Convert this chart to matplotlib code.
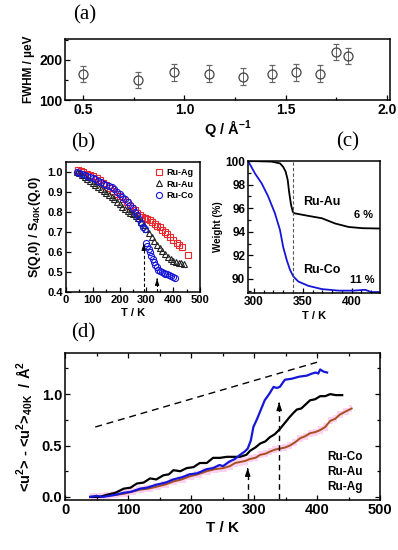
import matplotlib
matplotlib.use("Agg")
import matplotlib.pyplot as plt
from matplotlib.ticker import MultipleLocator

plt.rcParams['font.family'] = ['Liberation Sans', 'DejaVu Sans']
plt.rcParams['font.weight'] = 'bold'
plt.rcParams['mathtext.fontset'] = 'custom'
plt.rcParams['mathtext.rm'] = 'Liberation Sans:bold'
plt.rcParams['mathtext.bf'] = 'Liberation Sans:bold'
plt.rcParams['mathtext.it'] = 'Liberation Sans:bold'
plt.rcParams['mathtext.default'] = 'bf'

# ---------------- data ----------------
# (a)
q_vals = [0.50, 0.77, 0.95, 1.12, 1.29, 1.43, 1.55, 1.67, 1.75, 1.81]
fwhm_vals = [165, 149, 169, 165, 158, 165, 169, 165, 220, 210]
fwhm_err = [20, 20, 21, 21, 21, 21, 21, 21, 20, 20]

# (b)
b_ag_T = [46, 55, 65, 77, 89, 101, 114, 127, 139, 151, 164, 176, 189, 201, 214, 226, 239, 248,
          257, 266, 276, 285, 295, 304, 313, 322, 332, 341, 351, 360, 369, 378, 388, 400, 413,
          422, 432, 455]
b_ag_S = [1.008, 1.005, 1.0, 0.99, 0.985, 0.98, 0.97, 0.96, 0.945, 0.935, 0.92, 0.905, 0.89,
          0.88, 0.865, 0.85, 0.83, 0.82, 0.81, 0.795, 0.785, 0.775, 0.77, 0.765, 0.76, 0.75,
          0.74, 0.73, 0.725, 0.71, 0.70, 0.69, 0.675, 0.66, 0.645, 0.635, 0.625, 0.585]
b_au_T = [40, 50, 60, 70, 80, 90, 100, 110, 120, 130, 140, 150, 160, 170, 180, 190, 200, 210,
          220, 230, 240, 250, 260, 270, 280, 290, 300, 310, 320, 330, 340, 350, 360, 370, 380,
          390, 400, 410, 420, 430, 440]
b_au_S = [1.0, 0.995, 0.985, 0.975, 0.965, 0.955, 0.945, 0.935, 0.925, 0.915, 0.905, 0.895,
          0.885, 0.875, 0.865, 0.85, 0.84, 0.825, 0.815, 0.805, 0.795, 0.79, 0.78, 0.77, 0.75,
          0.735, 0.715, 0.695, 0.675, 0.655, 0.635, 0.62, 0.605, 0.59, 0.575, 0.565, 0.555,
          0.55, 0.545, 0.545, 0.54]
b_co_T = [41, 50, 60, 70, 80, 90, 100, 110, 120, 130, 140, 150, 160, 170, 180, 190, 200, 210,
          220, 230, 240, 250, 258, 265, 272, 280, 288, 295, 298, 303, 308, 313, 318, 323, 328,
          333, 338, 344, 350, 357, 364, 371, 378, 386, 393, 400, 407]
b_co_S = [1.0, 0.995, 0.99, 0.985, 0.98, 0.975, 0.97, 0.965, 0.955, 0.95, 0.94, 0.935, 0.93,
          0.925, 0.915, 0.90, 0.89, 0.875, 0.865, 0.85, 0.835, 0.82, 0.80, 0.785, 0.765, 0.745,
          0.725, 0.715, 0.645, 0.63, 0.615, 0.60, 0.58, 0.565, 0.55, 0.535, 0.525, 0.51, 0.505,
          0.50, 0.495, 0.49, 0.49, 0.485, 0.48, 0.475, 0.47]

# (c)
c_au_T = [294, 318, 326.7, 330, 332.5, 334.6, 336, 338, 339.8, 341, 356, 369.7, 383, 397, 411, 429]
c_au_W = [100, 99.95, 99.8, 99.5, 99.1, 98.4, 97.4, 96.3, 95.7, 95.57, 95.34, 95.14, 94.7, 94.4,
          94.3, 94.27]
c_co_T = [294, 297.5, 301, 308, 314.6, 321.5, 326.7, 330, 333.6, 337, 340.4, 345.5, 356, 369.7,
          386.8, 401.8, 410, 414, 420, 429]
c_co_W = [100, 99.5, 98.96, 98.1, 97.0, 95.57, 94.15, 92.7, 91.6, 90.76, 90.2, 89.77, 89.4,
          89.13, 89.0, 89.0, 89.05, 89.07, 88.88, 88.88]

# (d)
d_co_T = [40, 50, 60, 70, 80, 93, 105, 119, 130, 146, 160, 172, 185, 198, 210, 225, 235, 245,
          251, 260, 270, 278, 285, 290, 295, 299, 305, 311, 317, 324, 331, 336, 341, 349, 360,
          372, 384, 392, 398, 402, 405, 410, 416]
d_co_U = [0.0, 0.01, 0.0, 0.01, 0.02, 0.04, 0.05, 0.08, 0.09, 0.12, 0.14, 0.17, 0.19, 0.22,
          0.23, 0.27, 0.28, 0.31, 0.30, 0.34, 0.37, 0.41, 0.44, 0.47, 0.55, 0.68, 0.76, 0.85,
          0.94, 1.00, 1.07, 1.06, 1.07, 1.14, 1.15, 1.17, 1.18, 1.20, 1.21, 1.20, 1.24, 1.22, 1.21]
d_au_T = [40, 55, 66, 80, 93, 104, 114, 125, 135, 145, 156, 165, 172, 183, 193, 204, 214, 225,
          235, 246, 257, 266, 278, 288, 294, 302, 310, 318, 325, 333, 341, 349, 357, 363, 368,
          375, 382, 389, 397, 405, 413, 421, 430, 440]
d_au_U = [0.0, 0.0, 0.02, 0.04, 0.08, 0.09, 0.13, 0.14, 0.18, 0.17, 0.21, 0.22, 0.26, 0.25,
          0.28, 0.29, 0.33, 0.33, 0.38, 0.38, 0.39, 0.39, 0.39, 0.41, 0.45, 0.48, 0.52, 0.54,
          0.58, 0.61, 0.66, 0.72, 0.78, 0.82, 0.85, 0.86, 0.90, 0.94, 0.95, 0.98, 0.98, 1.00,
          0.99, 0.99]
d_ag_T = [40, 55, 66, 80, 93, 106, 119, 132, 146, 159, 172, 185, 198, 211, 225, 238, 251, 262,
          270, 278, 286, 294, 302, 310, 318, 325, 333, 341, 349, 357, 365, 373, 381, 389, 397,
          405, 413, 421, 429, 436, 445, 455]
d_ag_U = [0.0, 0.0, 0.01, 0.02, 0.03, 0.05, 0.07, 0.08, 0.10, 0.12, 0.15, 0.17, 0.20, 0.22,
          0.25, 0.27, 0.28, 0.30, 0.33, 0.34, 0.35, 0.37, 0.38, 0.41, 0.42, 0.44, 0.46, 0.47,
          0.48, 0.50, 0.53, 0.57, 0.59, 0.62, 0.63, 0.65, 0.68, 0.74, 0.76, 0.80, 0.83, 0.86]
d_guide_T = [48, 400]
d_guide_U = [0.68, 1.31]

BLUE = '#1616d8'
RED = '#e8282c'
BROWN = '#a8501e'

fig = plt.figure(figsize=(3.98, 5.5), dpi=100)


def ax_px(l, t, r, b):
    return fig.add_axes([l / 398, 1 - b / 550, (r - l) / 398, (b - t) / 550])


def style(ax, size, top=False, right=False):
    for s in ax.spines.values():
        s.set_linewidth(1.1)
    ax.tick_params(which='both', direction='in', top=top, right=right, width=0.9,
                   labelsize=size, pad=2)
    ax.tick_params(which='major', length=3.5)
    ax.tick_params(which='minor', length=2)
    for lab in ax.get_xticklabels() + ax.get_yticklabels():
        lab.set_fontweight('bold')


serif = ['Liberation Serif', 'DejaVu Serif']


def panel_label(x, y, s):
    fig.text(x / 398, 1 - y / 550, s, family=serif, fontsize=15, fontweight='normal',
             ha='center', va='center')


# ---------------- (a) ----------------
axA = ax_px(65, 39, 390, 100)
axA.errorbar(q_vals, fwhm_vals, yerr=fwhm_err, fmt='o', mfc='none', mec='#444444',
             ecolor='#666666', ms=6.5, mew=0.9, elinewidth=0.7, capsize=2.5, capthick=0.7)
axA.set_xlim(0.41, 2.015)
axA.set_ylim(100, 252)
axA.xaxis.set_major_locator(MultipleLocator(0.5))
axA.xaxis.set_minor_locator(MultipleLocator(0.25))
axA.yaxis.set_major_locator(MultipleLocator(100))
axA.yaxis.set_minor_locator(MultipleLocator(50))
style(axA, 10)
axA.set_ylabel('FWHM / µeV', fontsize=8.5, fontweight='bold', labelpad=3)
axA.set_xlabel('Q / Å$^{-1}$', fontsize=10.5, fontweight='bold', labelpad=1)
panel_label(85, 15, '(a)')

# ---------------- (b) ----------------
axB = ax_px(66, 162, 200, 292)
axB.plot(b_ag_T, b_ag_S, 's', mfc='none', mec=RED, ms=4.2, mew=0.8, label='Ru-Ag')
axB.plot(b_au_T, b_au_S, '^', mfc='none', mec='#222222', ms=4.4, mew=0.8, label='Ru-Au')
axB.plot(b_co_T, b_co_S, 'o', mfc='none', mec=BLUE, ms=4.4, mew=0.8, label='Ru-Co')
axB.plot([290, 290], [0.40, 0.63], color='k', lw=0.8, ls=(0, (3, 2)))
axB.annotate('', xy=(290, 0.655), xytext=(290, 0.62),
             arrowprops=dict(arrowstyle='-|>,head_width=0.12,head_length=0.35', color='k', lw=0.8))
axB.plot([340, 340], [0.40, 0.455], color='k', lw=0.8, ls=(0, (3, 2)))
axB.annotate('', xy=(340, 0.48), xytext=(340, 0.45),
             arrowprops=dict(arrowstyle='-|>,head_width=0.12,head_length=0.35', color='k', lw=0.8))
axB.set_xlim(0, 500)
axB.set_ylim(0.4, 1.05)
axB.xaxis.set_major_locator(MultipleLocator(100))
axB.xaxis.set_minor_locator(MultipleLocator(50))
axB.yaxis.set_major_locator(MultipleLocator(0.1))
style(axB, 8)
axB.set_xlabel('T / K', fontsize=8, fontweight='bold', labelpad=2)
axB.set_ylabel('S(Q,0) / S$_{40K}$(Q,0)', fontsize=9, fontweight='bold', labelpad=3)
leg = axB.legend(loc='upper right', frameon=False, prop={'size': 6.5, 'weight': 'bold'},
                 handletextpad=0.3, labelspacing=0.25, borderaxespad=0.3, handlelength=1.0)
panel_label(83, 143, '(b)')

# ---------------- (c) ----------------
axC = ax_px(248, 161, 380, 293)
axC.plot(c_au_T, c_au_W, color='k', lw=1.3)
axC.plot(c_co_T, c_co_W, color=BLUE, lw=1.3)
axC.axvline(340, color='#555555', lw=0.8, ls=(0, (3, 2)))
axC.set_xlim(294, 429)
axC.set_ylim(88.8, 100)
axC.xaxis.set_major_locator(MultipleLocator(50))
axC.xaxis.set_minor_locator(MultipleLocator(10))
axC.yaxis.set_major_locator(MultipleLocator(2))
axC.yaxis.set_minor_locator(MultipleLocator(1))
style(axC, 8.5)
axC.set_xlabel('T / K', fontsize=8, fontweight='bold', labelpad=2)
axC.set_ylabel('Weight (%)', fontsize=7, fontweight='bold', labelpad=2)
axC.text(369.7, 96.55, 'Ru-Au', fontsize=9, fontweight='bold', ha='center', va='center')
axC.text(412.6, 95.4, '6 %', fontsize=8, fontweight='bold', ha='center', va='center')
axC.text(369.7, 90.76, 'Ru-Co', fontsize=9, fontweight='bold', ha='center', va='center')
axC.text(411, 89.9, '11 %', fontsize=8, fontweight='bold', ha='center', va='center')
panel_label(348, 142, '(c)')

# ---------------- (d) ----------------
axD = ax_px(65, 353, 380, 500)
axD.fill_between(d_ag_T, [u - 0.035 for u in d_ag_U], [u + 0.035 for u in d_ag_U],
                 step='mid', color='#ffc4ee', alpha=0.75, lw=0)
axD.plot(d_ag_T, d_ag_U, color=BROWN, lw=1.4)
axD.plot(d_au_T, d_au_U, color='k', lw=1.6)
axD.plot(d_co_T, d_co_U, color=BLUE, lw=1.6)
axD.plot(d_guide_T, d_guide_U, color='k', lw=1.0, ls=(0, (5, 3.5)))
axD.plot([290, 290], [-0.02, 0.25], color='k', lw=1.0, ls=(0, (4, 3)))
axD.annotate('', xy=(290, 0.31), xytext=(290, 0.24),
             arrowprops=dict(arrowstyle='-|>,head_width=0.15,head_length=0.45', color='k', lw=1.0))
axD.plot([340, 340], [-0.02, 0.88], color='k', lw=1.0, ls=(0, (4, 3)))
axD.annotate('', xy=(340, 0.95), xytext=(340, 0.88),
             arrowprops=dict(arrowstyle='-|>,head_width=0.15,head_length=0.45', color='k', lw=1.0))
axD.set_xlim(0, 500)
axD.set_ylim(-0.03, 1.4)
axD.xaxis.set_major_locator(MultipleLocator(100))
axD.xaxis.set_minor_locator(MultipleLocator(50))
axD.yaxis.set_major_locator(MultipleLocator(0.5))
axD.yaxis.set_minor_locator(MultipleLocator(0.25))
style(axD, 10.5, top=True, right=True)
axD.set_xlabel('T / K', fontsize=11, fontweight='bold', labelpad=3)
axD.set_ylabel('<u$^2$> - <u$^2$>$_{40K}$  / Å$^2$', fontsize=10.5, fontweight='bold',
               labelpad=5)
for txt, yy in zip(['Ru-Co', 'Ru-Au', 'Ru-Ag'], [0.39, 0.245, 0.10]):
    axD.text(445, yy, txt, fontsize=8.5, fontweight='bold', ha='center', va='center')
panel_label(83, 333, '(d)')

fig.savefig('out.png', dpi=100)
